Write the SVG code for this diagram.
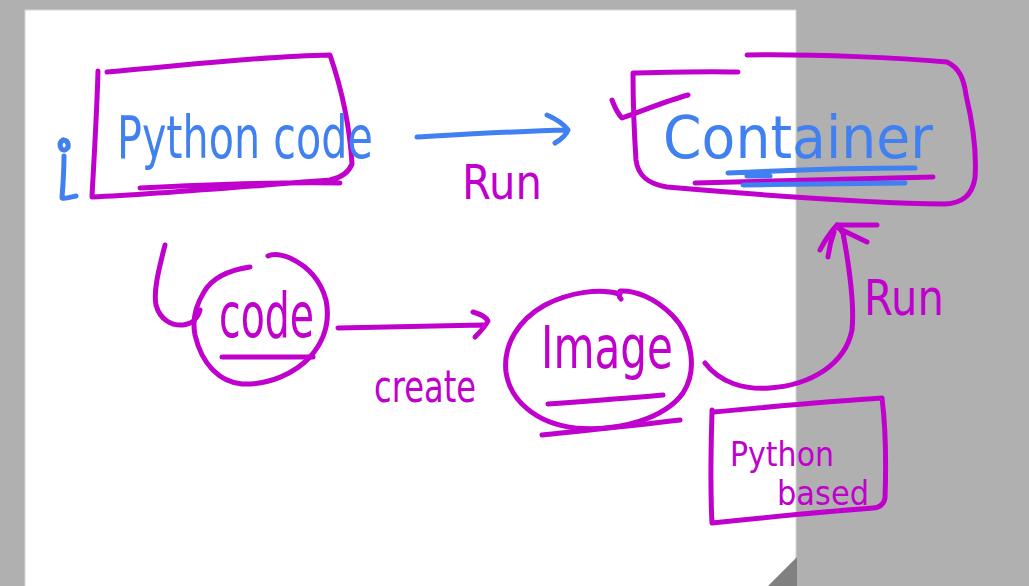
<svg xmlns="http://www.w3.org/2000/svg" width="1029" height="586" viewBox="0 0 1029 586">
<style>
.m{fill:none;stroke:#c000cc;stroke-width:5;stroke-linecap:round;stroke-linejoin:round}
.b{fill:none;stroke:#4080f0;stroke-width:5;stroke-linecap:round;stroke-linejoin:round}
.tb{fill:#4080f0;font-family:"DejaVu Sans","Liberation Sans",sans-serif}
.tm{fill:#c000cc;font-family:"DejaVu Sans","Liberation Sans",sans-serif}
</style>
<rect x="0" y="0" width="1029" height="586" fill="#b0b0b0"/>
<rect x="25" y="10" width="771" height="580" fill="#ffffff" stroke="#d4d4d4" stroke-width="1"/>
<polygon points="768,586 797,557 797,586" fill="#808080"/>
<rect x="797" y="0" width="232" height="586" fill="#b0b0b0"/>

<g id="python-code">
<path class="m" d="M98,71 C97,110 94,160 92,196 M107,72 C180,66 260,56 330,55 C342,90 350,130 352,164 C348,174 340,178 330,180 C250,186 160,194 92,197 M140,188 C220,184 290,182 340,183"/>
<text class="tb" x="117" y="158" font-size="58" textLength="256" lengthAdjust="spacingAndGlyphs">Python code</text>
<path class="b" d="M63,140 C58,143 60,151 65,150 C70,148 69,140 63,140 M64,156 C64,170 63,185 62,198 C66,199 71,197 76,196"/>
</g>

<g id="container">
<path class="m" d="M747,55 C820,54 900,58 947,62 C960,68 964,80 966,95 C972,120 977,150 975,178 C972,196 962,203 945,204 C860,203 760,195 667,187 C648,184 638,176 636,160 C634,130 633,100 633,73 C670,72 705,71 738,72 M612,100 C615,108 618,114 622,118 C645,110 666,101 688,95"/>
<text class="tb" x="663" y="158" font-size="58" textLength="270" lengthAdjust="spacingAndGlyphs">Container</text>
<path class="m" d="M695,183 C780,181 860,179 933,177"/>
<path class="b" d="M728,173 C790,170 860,168 915,168 M743,185 C800,184 860,184 905,183 M747,176 L770,176"/>
</g>

<g id="code">
<path class="m" d="M250,267 C230,270 212,278 204,292 C196,305 192,320 195,335 C202,365 220,382 242,384 C270,385 295,373 310,357 C325,340 330,320 326,300 C320,278 305,265 290,258 C280,254 272,254 268,256"/>
<path class="m" d="M165,245 C160,265 153,290 156,305 C160,320 172,326 183,325 C192,324 198,318 200,310"/>
<text class="tm" x="219" y="337" font-size="62" textLength="95" lengthAdjust="spacingAndGlyphs">code</text>
<path class="m" d="M222,357 L313,357" stroke-width="7"/>
</g>

<g id="image">
<path class="m" d="M620,294 C600,288 570,292 545,305 C518,320 503,345 506,372 C510,400 535,423 575,428 C620,432 665,418 683,393 C698,370 692,335 672,315 C655,298 635,290 620,291 C618,295 620,298 621,299"/>
<text class="tm" x="541" y="368" font-size="58" textLength="132" lengthAdjust="spacingAndGlyphs">Image</text>
<path class="m" d="M548,404 C590,401 630,398 663,395 M542,435 C590,430 640,425 680,420"/>
</g>

<g id="python-based">
<path class="m" d="M712,410 L712,413 M714,412 C770,407 830,401 882,398 C886,430 886,470 885,498 C884,505 878,508 873,508 C820,512 760,518 712,523 C710,485 711,445 712,413"/>
<text class="tm" x="730" y="466" font-size="33" textLength="104" lengthAdjust="spacingAndGlyphs">Python</text>
<text class="tm" x="777" y="505" font-size="33" textLength="92" lengthAdjust="spacingAndGlyphs">based</text>
</g>

<g id="connectors">
<path class="b" d="M417,137 C470,134 520,131 568,130 M547,115 C556,119 564,124 568,130 C566,136 560,140 555,143"/>
<text class="tm" x="462" y="199" font-size="48" textLength="80" lengthAdjust="spacingAndGlyphs">Run</text>
<path class="m" d="M338,328 C390,327 440,326 483,325 M473,312 C480,314 486,317 488,321 C485,327 480,332 475,337"/>
<text class="tm" x="374" y="402" font-size="44" textLength="102" lengthAdjust="spacingAndGlyphs">create</text>
<path class="m" d="M705,363 C720,383 745,390 770,388 C810,385 845,365 852,330 C855,300 848,260 843,233 L837,225 M837,225 L877,225 M838,228 L867,242 M837,225 C830,233 824,242 820,250 M834,232 C831,240 829,249 828,257"/>
<text class="tm" x="864" y="315" font-size="50" textLength="80" lengthAdjust="spacingAndGlyphs">Run</text>
</g>
</svg>
